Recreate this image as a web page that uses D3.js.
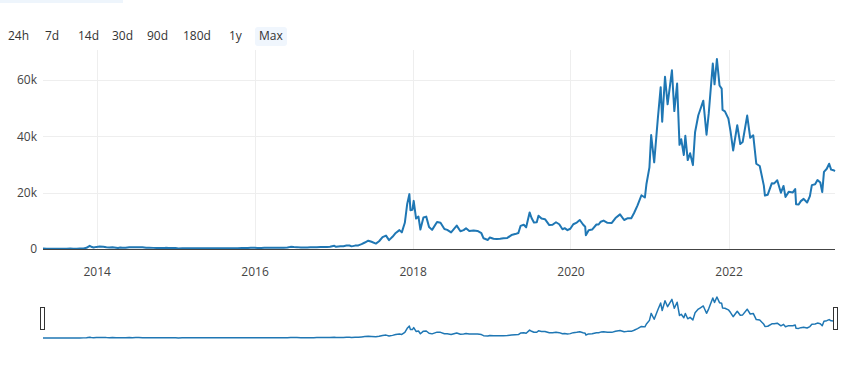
<!DOCTYPE html>
<html lang='en'>
<head>
  <meta charset='UTF-8'>
  <title>Price chart</title>
  <script src='https://d3js.org/d3.v7.min.js'></script>
  <style>
    body { margin: 0; background: #fff; }
    svg { display: block; font-family: 'Open Sans', sans-serif; }
  </style>
</head>
<body>
  <svg width='863' height='387'></svg>

  <script>
    // range buttons
    var buttons = ['24h', '7d', '14d', '30d', '90d', '180d', '1y', 'Max'];
    var buttonX = [8, 45, 78, 112, 147, 183, 229, 259];

    var yTicks = [0, 20000, 40000, 60000];
    var xTicks = ['2014-01-01', '2016-01-01', '2018-01-01', '2020-01-01', '2022-01-01'];

    // price (USD)
    var dates = [
      '2013-04-28','2013-05-15','2013-06-01','2013-06-15','2013-07-01','2013-07-15','2013-08-01','2013-08-15',
      '2013-09-01','2013-09-15','2013-10-01','2013-10-15','2013-11-01','2013-11-15','2013-11-30','2013-12-07',
      '2013-12-18','2013-12-31',
      '2014-01-15','2014-02-01','2014-02-15','2014-03-01','2014-03-15','2014-04-01','2014-04-10','2014-04-20',
      '2014-05-01','2014-05-15','2014-06-01','2014-06-15','2014-07-01','2014-07-15','2014-08-01','2014-08-18',
      '2014-09-01','2014-09-20','2014-10-05','2014-10-20','2014-11-01','2014-11-15','2014-12-01','2014-12-15',
      '2015-01-01','2015-01-14','2015-02-01','2015-02-15','2015-03-01','2015-03-15','2015-04-01','2015-04-15',
      '2015-05-01','2015-05-15','2015-06-01','2015-06-15','2015-07-01','2015-07-12','2015-08-01','2015-08-20',
      '2015-09-01','2015-09-15','2015-10-01','2015-10-15','2015-11-04','2015-11-15','2015-12-01','2015-12-15',
      '2016-01-01','2016-01-15','2016-02-01','2016-02-15','2016-03-01','2016-03-15','2016-04-01','2016-04-15',
      '2016-05-01','2016-05-15','2016-06-01','2016-06-16','2016-07-01','2016-07-15','2016-08-02','2016-08-15',
      '2016-09-01','2016-09-15','2016-10-01','2016-10-15','2016-11-01','2016-11-15','2016-12-01','2016-12-15',
      '2017-01-04','2017-01-12','2017-02-01','2017-02-15','2017-03-01','2017-03-15','2017-03-25','2017-04-10',
      '2017-04-25','2017-05-10','2017-05-25','2017-06-10','2017-06-25','2017-07-15','2017-07-30','2017-08-15',
      '2017-08-31','2017-09-14','2017-09-30','2017-10-15','2017-11-01','2017-11-12','2017-11-26','2017-12-07',
      '2017-12-17','2017-12-22','2017-12-31',
      '2018-01-06','2018-01-17','2018-01-28','2018-02-06','2018-02-20','2018-03-05','2018-03-18','2018-04-01',
      '2018-04-24','2018-05-10','2018-05-28','2018-06-10','2018-06-28','2018-07-24','2018-08-10','2018-08-25',
      '2018-09-05','2018-09-20','2018-10-10','2018-10-28','2018-11-15','2018-11-25','2018-12-15','2018-12-24',
      '2019-01-10','2019-01-25','2019-02-10','2019-02-25','2019-03-15','2019-04-03','2019-04-20','2019-05-05',
      '2019-05-15','2019-05-30','2019-06-10','2019-06-26','2019-07-05','2019-07-16','2019-07-29','2019-08-06',
      '2019-08-20','2019-09-05','2019-09-25','2019-10-10','2019-10-26','2019-11-10','2019-11-25','2019-12-05',
      '2019-12-18','2019-12-31',
      '2020-01-14','2020-01-30','2020-02-13','2020-02-28','2020-03-09','2020-03-12','2020-03-25','2020-04-10',
      '2020-04-30','2020-05-10','2020-05-20','2020-06-02','2020-06-20','2020-07-10','2020-07-27','2020-08-17',
      '2020-09-05','2020-09-20','2020-10-08','2020-10-21','2020-11-06','2020-11-24','2020-12-10','2020-12-17',
      '2020-12-31',
      '2021-01-08','2021-01-22','2021-02-08','2021-02-21','2021-02-28','2021-03-13','2021-03-25','2021-04-14',
      '2021-04-25','2021-05-08','2021-05-19','2021-05-27','2021-06-08','2021-06-15','2021-06-26','2021-07-07',
      '2021-07-20','2021-07-30','2021-08-14','2021-08-22','2021-09-06','2021-09-21','2021-10-01','2021-10-20',
      '2021-10-28','2021-11-08','2021-11-20','2021-11-30','2021-12-04','2021-12-15','2021-12-31',
      '2022-01-10','2022-01-22','2022-02-10','2022-02-24','2022-03-07','2022-03-28','2022-04-11','2022-04-25',
      '2022-05-09','2022-05-25','2022-06-13','2022-06-18','2022-07-01','2022-07-20','2022-07-31','2022-08-14',
      '2022-08-31','2022-09-12','2022-09-21','2022-10-06','2022-10-25','2022-11-05','2022-11-09','2022-11-21',
      '2022-12-01','2022-12-14','2022-12-30',
      '2023-01-12','2023-01-21','2023-02-05','2023-02-16','2023-03-01','2023-03-10','2023-03-18','2023-03-31',
      '2023-04-11','2023-04-20','2023-05-01','2023-05-08'
    ];
    var prices = [
      135,115,128,100,90,97,105,110,
      140,125,125,150,205,420,1130,800,
      550,750,
      850,830,620,560,630,480,360,500,
      450,450,640,600,640,620,590,480,
      480,400,320,385,325,400,380,350,
      315,180,230,255,260,285,245,225,
      235,237,225,250,260,310,280,230,
      230,230,237,255,400,330,360,455,
      430,380,375,400,430,415,415,430,
      450,455,530,760,680,665,545,570,
      570,610,615,640,730,710,750,780,
      1130,780,985,1010,1220,1250,940,1200,
      1280,1750,2300,2950,2580,1930,2750,4200,
      4750,3150,4330,5700,6700,5900,9300,16000,
      19500,13800,13900,
      17100,10800,11500,6900,11200,11500,7800,6800,
      9600,9300,7100,6800,5900,8300,6300,6700,
      7400,6400,6600,6400,5600,3800,3200,4100,
      3650,3550,3650,3850,3950,4950,5300,5700,
      8200,8600,7700,13000,11000,9400,9500,11800,
      10800,10600,8500,8600,9500,8800,7000,7400,
      6700,7200,
      8800,9400,10300,8700,7900,4900,6700,6900,
      8700,8700,9700,10100,9300,9250,11000,12300,
      10300,10900,10900,12800,15500,19100,18300,23000,
      29000,
      40500,30800,46500,57500,45200,61200,51400,63500,
      49000,58800,37000,39000,33400,40200,31600,34000,
      29800,41500,47500,49300,52700,40600,48000,65900,
      58500,67500,58100,57000,49400,48900,46300,
      41800,35000,44000,37300,38000,47400,39500,40400,
      30300,29500,22500,19000,19300,23400,23300,24400,
      20000,22400,18500,20300,20100,21300,15900,15800,
      17000,17800,16500,
      18800,22700,23000,24500,23600,20200,27400,28500,
      30300,28200,28000,27700
    ];

    var parseDate = d3.timeParse('%Y-%m-%d');
    var data = dates.map((d, i) => ({ date: parseDate(d), price: prices[i] }));

    var svg = d3.select('svg');
    var plotLeft = 43, plotRight = 835, plotTop = 50, plotBottom = 249;

    // faint strip at the very top
    svg.append('rect')
      .attr('x', 0).attr('y', 0).attr('width', 123).attr('height', 3)
      .attr('fill', '#eef5fc');

    // buttons
    svg.append('rect')
      .attr('x', 255).attr('y', 27).attr('width', 32).attr('height', 19)
      .attr('rx', 3).attr('fill', '#f0f6fd');
    svg.selectAll('.btn').data(buttons)
     .enter().append('text')
      .attr('class', 'btn')
      .attr('x', (d, i) => buttonX[i])
      .attr('y', 40)
      .attr('font-size', 12)
      .attr('fill', '#333')
      .text(d => d);

    var x = d3.scaleTime()
      .domain([parseDate('2013-04-28'), parseDate('2023-05-08')])
      .range([plotLeft, plotRight]);
    var y = d3.scaleLinear()
      .domain([0, 70700])
      .range([plotBottom, plotTop]);

    var g = svg.append('g');

    // grid
    g.selectAll('.vgrid').data(xTicks.map(parseDate))
     .enter().append('line')
      .attr('x1', d => Math.round(x(d)) + 0.5).attr('x2', d => Math.round(x(d)) + 0.5)
      .attr('y1', plotTop).attr('y2', plotBottom)
      .attr('stroke', '#eee').attr('stroke-width', 1);
    g.selectAll('.hgrid').data(yTicks.slice(1))
     .enter().append('line')
      .attr('x1', plotLeft).attr('x2', plotRight)
      .attr('y1', d => Math.round(y(d)) + 0.5).attr('y2', d => Math.round(y(d)) + 0.5)
      .attr('stroke', '#eee').attr('stroke-width', 1);

    // axes
    var yAxis = g.append('g')
      .attr('transform', 'translate(' + plotLeft + ',0)')
      .call(d3.axisLeft(y).tickValues(yTicks).tickSize(0).tickPadding(6)
        .tickFormat(d => d === 0 ? '0' : (d / 1000) + 'k'));
    var xAxis = g.append('g')
      .attr('transform', 'translate(0,' + plotBottom + ')')
      .call(d3.axisBottom(x).tickValues(xTicks.map(parseDate)).tickSize(0).tickPadding(18)
        .tickFormat(d3.timeFormat('%Y')));
    [yAxis, xAxis].forEach(a => {
      a.select('.domain').remove();
      a.selectAll('text').attr('font-size', 12).attr('fill', '#444')
        .attr('font-family', "'Open Sans', sans-serif");
    });

    var line = d3.line()
      .x(d => x(d.date))
      .y(d => y(d.price));
    g.append('path')
      .datum(data)
      .attr('fill', 'none')
      .attr('stroke', '#1f77b4')
      .attr('stroke-width', 2)
      .attr('stroke-linejoin', 'round')
      .attr('d', line);

    // zero line
    g.append('line')
      .attr('x1', plotLeft).attr('x2', plotRight)
      .attr('y1', plotBottom + 0.5).attr('y2', plotBottom + 0.5)
      .attr('stroke', '#444').attr('stroke-width', 1);

    // range slider
    var ys = d3.scaleLinear().domain([0, 70700]).range([338, 295]);
    var lineS = d3.line()
      .x(d => x(d.date))
      .y(d => ys(d.price));
    svg.append('path')
      .datum(data)
      .attr('fill', 'none')
      .attr('stroke', '#1f77b4')
      .attr('stroke-width', 1.5)
      .attr('stroke-linejoin', 'round')
      .attr('d', lineS);
    [plotLeft - 2.5, plotRight - 1.5].forEach(hx => {
      svg.append('rect')
        .attr('x', hx).attr('y', 307.5).attr('width', 4).attr('height', 22)
        .attr('fill', '#fff').attr('stroke', '#333').attr('stroke-width', 1);
    });
  </script>
</body>
</html>
